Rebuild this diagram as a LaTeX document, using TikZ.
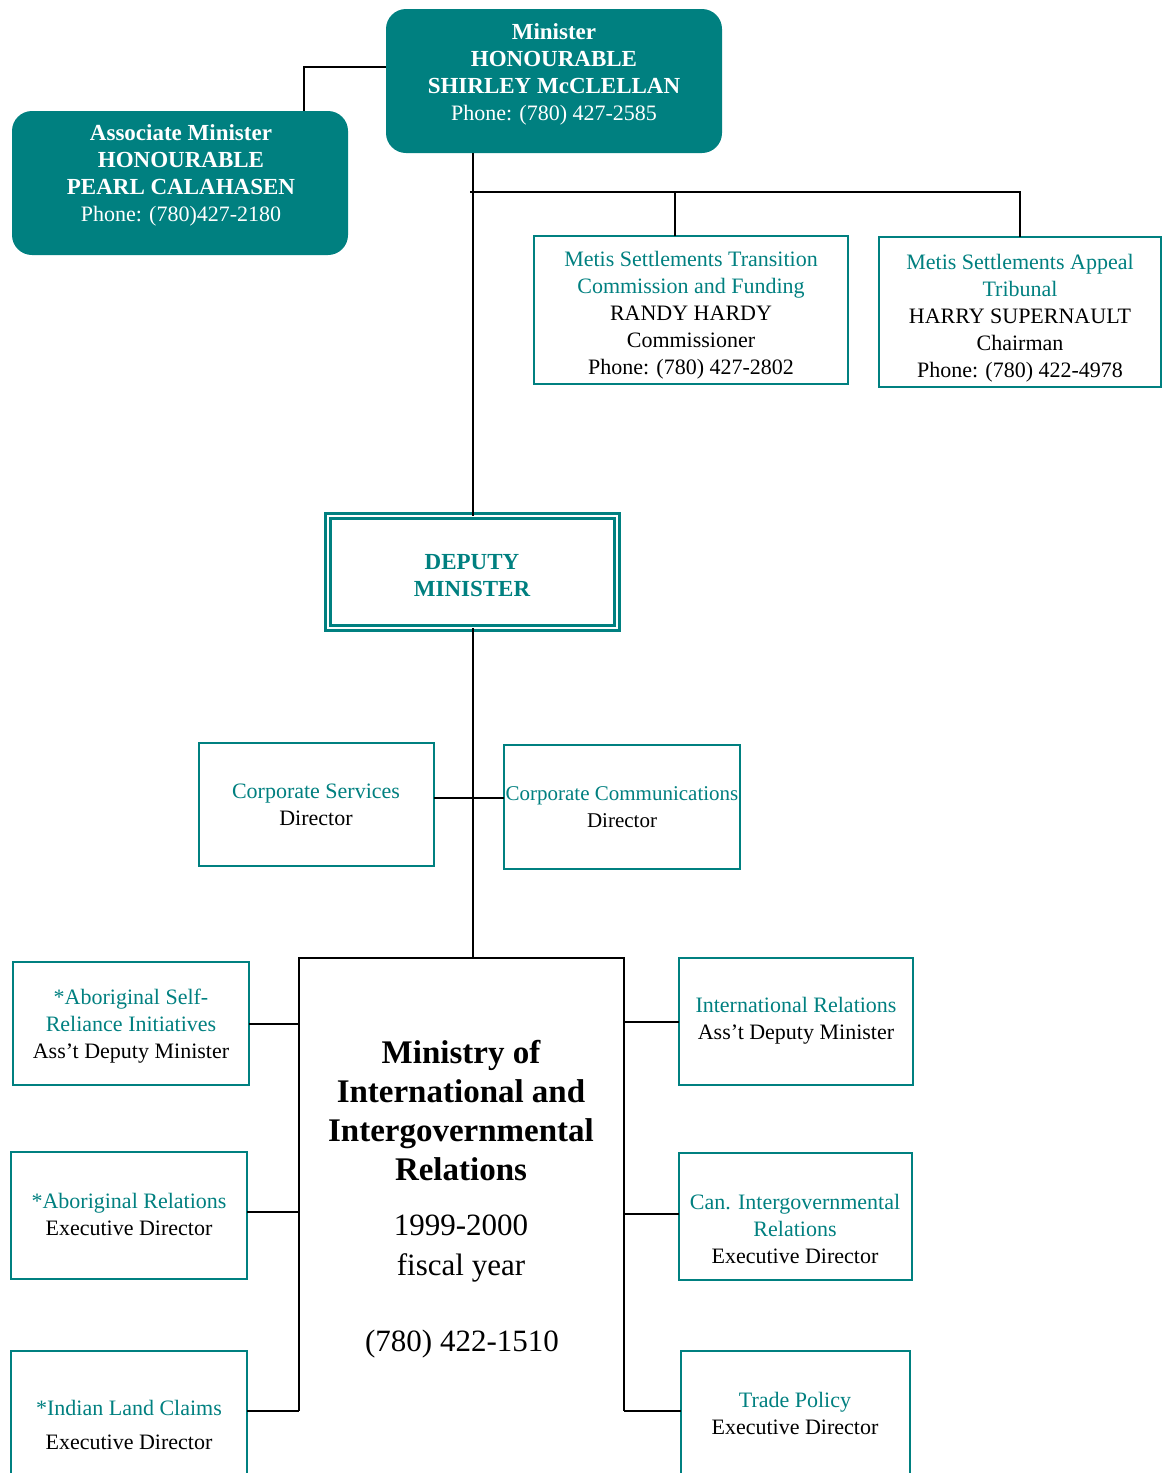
\documentclass[tikz,border=0pt]{standalone}
\usepackage{fontspec}
\setmainfont{Liberation Serif}
\definecolor{tealc}{RGB}{0,128,128}
\newcommand{\myfs}[2]{\fontsize{#1}{#2}\selectfont}
\tikzset{
  rbox/.style={rectangle, rounded corners=20pt, fill=tealc, draw=none, inner sep=0pt, outer sep=0pt, anchor=north west},
  tbox/.style={rectangle, draw=tealc, line width=2pt, fill=white, inner sep=0pt, outer sep=0pt, anchor=north west},
  conn/.style={draw=black, line width=2pt},
  lbl/.style={align=center, inner sep=0pt, font=\myfs{22}{27}},
}
\begin{document}
\begin{tikzpicture}[x=1pt,y=-1pt]
\useasboundingbox (0,0) rectangle (1168,1473);
\clip (0,0) rectangle (1168,1473);

% ---------- boxes ----------
\node[rbox, minimum width=336pt, minimum height=144pt] (min) at (386,9) {};
\node[rbox, minimum width=336pt, minimum height=144pt] (assoc) at (12,111) {};
\node[tbox, minimum width=314pt, minimum height=148pt] (trans) at (534,236) {};
\node[tbox, minimum width=282pt, minimum height=150pt] (appeal) at (879,237) {};
\node[rectangle, draw=tealc, double=white, line width=2.6pt, double distance=2.4pt,
      minimum width=289.5pt, minimum height=112.5pt, inner sep=0pt, outer sep=0pt] (dep) at (472.5,572) {};
\node[tbox, minimum width=235pt, minimum height=123pt] (cs) at (199,743) {};
\node[tbox, minimum width=236pt, minimum height=124pt] (cc) at (504,745) {};
\node[tbox, minimum width=236pt, minimum height=123pt] (asri) at (13,962) {};
\node[tbox, minimum width=236pt, minimum height=127pt] (abrel) at (11,1152) {};
\node[tbox, minimum width=236pt, minimum height=160pt] (ilc) at (11,1351) {};
\node[tbox, minimum width=234pt, minimum height=127pt] (intl) at (679,958) {};
\node[tbox, minimum width=233pt, minimum height=127pt] (can) at (679,1153) {};
\node[tbox, minimum width=229pt, minimum height=160pt] (trade) at (681,1351) {};

% ---------- coordinates ----------
\coordinate (j1) at (304,67);
\coordinate (h1) at (470,192);
\coordinate (d1) at (675,192);
\coordinate (d2) at (1020,192);
\coordinate (cj) at (472,798);
\coordinate (ftl) at (299,958);
\coordinate (ftr) at (624,958);
\coordinate (fbl) at (299,1411);
\coordinate (fbr) at (624,1411);

% ---------- connectors ----------
\draw[conn] (min.west |- j1) -| (j1 |- assoc.north);
\draw[conn] (dep.north |- min.south) -- (dep.north);
\draw[conn] (h1) -- (d2) -- (d2 |- appeal.north);
\draw[conn] (d1) -- (d1 |- trans.north);
\draw[conn] (dep.south) -- (dep.south |- ftl);
\draw[conn] (cs.east |- cj) -- (cc.west |- cj);
\draw[conn] (fbl) -- (ftl) -- (ftr) -- (fbr);
\draw[conn] (asri.east) -- (asri.east -| ftl);
\draw[conn] (abrel.east |- 0,1212) -- (ftl |- 0,1212);
\draw[conn] (ilc.east |- fbl) -- (fbl);
\draw[conn] (ftr |- 0,1022) -- (intl.west |- 0,1022);
\draw[conn] (ftr |- 0,1214) -- (can.west |- 0,1214);
\draw[conn] (fbr) -- (trade.west |- fbr);

% ---------- texts ----------
\node[lbl, text=white] (tmin) at (554,74) {{\bfseries\myfs{23}{27}Minister}\\ {\bfseries\myfs{23}{27}HONOURABLE}\\ {\bfseries\myfs{23}{27}SHIRLEY McCLELLAN}\\ Phone: (780) 427-2585};
\node[lbl, text=white] (tassoc) at (181,175.5) {{\bfseries\myfs{23}{27}Associate Minister}\\ {\bfseries\myfs{23}{27}HONOURABLE}\\ {\bfseries\myfs{23}{27}PEARL CALAHASEN}\\ Phone: (780)427-2180};
\node[lbl] (ttrans) at (691,315) {\textcolor{tealc}{Metis Settlements Transition}\\ \textcolor{tealc}{Commission and Funding}\\ RANDY HARDY\\ Commissioner\\ Phone: (780) 427-2802};
\node[lbl] (tappeal) at (1020,318) {\textcolor{tealc}{Metis Settlements Appeal}\\ \textcolor{tealc}{Tribunal}\\ HARRY SUPERNAULT\\ Chairman\\ Phone: (780) 422-4978};
\node[lbl, text=tealc, font=\bfseries\myfs{23}{27}] (tdep) at (472,576) {DEPUTY\\ MINISTER};
\node[lbl] (tcs) at (316,805) {\textcolor{tealc}{Corporate Services}\\ Director};
\node[lbl, font=\myfs{21}{27}] (tcc) at (622,807) {\textcolor{tealc}{Corporate Communications}\\ Director};
\node[lbl, font=\bfseries\myfs{33}{39}] (tmin1) at (461,1111) {Ministry of\\ International and\\ Intergovernmental\\ Relations};
\node[lbl, font=\myfs{31}{40}] (tmin2) at (461,1249) {1999-2000\\ fiscal year};
\node[lbl, font=\myfs{31}{40}] (tmin3) at (462,1344) {(780) 422-1510};
\node[lbl] (tasri) at (131,1026.5) {\textcolor{tealc}{*Aboriginal Self-}\\ \textcolor{tealc}{Reliance Initiatives}\\ Ass’t Deputy Minister};
\node[lbl] (tabrel) at (129,1214.5) {\textcolor{tealc}{*Aboriginal Relations}\\ Executive Director};
\node[lbl, font=\myfs{22}{34}] (tilc) at (129,1425) {\textcolor{tealc}{*Indian Land Claims}\\ Executive Director};
\node[lbl] (tintl) at (796,1020.5) {\textcolor{tealc}{International Relations}\\ Ass’t Deputy Minister};
\node[lbl] (tcan) at (795,1229) {\textcolor{tealc}{Can. Intergovernmental}\\ \textcolor{tealc}{Relations}\\ Executive Director};
\node[lbl] (ttrade) at (795,1413.5) {\textcolor{tealc}{Trade Policy}\\ Executive Director};
\end{tikzpicture}
\end{document}
